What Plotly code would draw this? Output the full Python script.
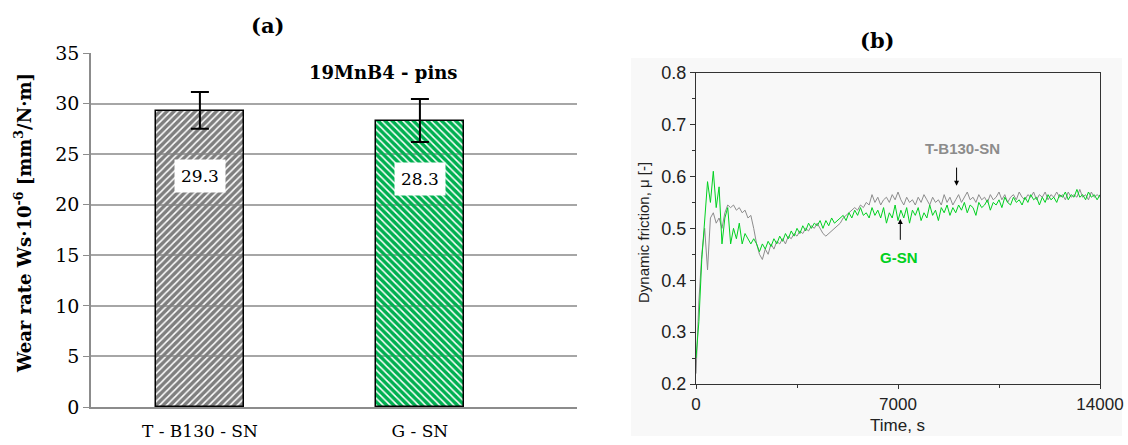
import plotly.graph_objects as go

# ---------------- data (a) ----------------
categories = ["T - B130 - SN", "G - SN"]
wear_rate = [29.3, 28.3]
wear_err_plus = [1.85, 2.15]
wear_err_minus = [1.8, 2.1]
bar_colors = ["#7f7f7f", "#00b050"]
bar_patterns = ["/", "\\"]

# ---------------- data (b) ----------------
time_s = list(range(0, 14001, 100))
mu_tb130 = [
    0.22, 0.36, 0.45, 0.50, 0.42, 0.52, 0.53, 0.51, 0.52, 0.50,
    0.53, 0.545, 0.54, 0.545, 0.535, 0.54, 0.53, 0.535, 0.52, 0.525,
    0.50, 0.47, 0.45, 0.44, 0.46, 0.45, 0.47, 0.46, 0.475, 0.47,
    0.48, 0.47, 0.485, 0.48, 0.49, 0.485, 0.495, 0.49, 0.50, 0.495,
    0.505, 0.50, 0.51, 0.50, 0.49, 0.485, 0.49, 0.495, 0.50, 0.505,
    0.51, 0.52, 0.525, 0.53, 0.535, 0.54, 0.535, 0.545, 0.54, 0.55,
    0.545, 0.565, 0.55, 0.56, 0.545, 0.555, 0.56, 0.55, 0.565, 0.555,
    0.57, 0.555, 0.545, 0.56, 0.55, 0.555, 0.545, 0.56, 0.55, 0.565,
    0.555, 0.545, 0.56, 0.55, 0.555, 0.545, 0.565, 0.55, 0.56, 0.545,
    0.555, 0.565, 0.55, 0.56, 0.57, 0.555, 0.56, 0.55, 0.565, 0.555,
    0.56, 0.55, 0.565, 0.555, 0.56, 0.57, 0.555, 0.565, 0.55, 0.56,
    0.565, 0.555, 0.57, 0.56, 0.555, 0.565, 0.56, 0.57, 0.555, 0.565,
    0.56, 0.57, 0.555, 0.565, 0.56, 0.57, 0.56, 0.565, 0.555, 0.57,
    0.56, 0.565, 0.56, 0.575, 0.56, 0.565, 0.555, 0.57, 0.56, 0.565,
    0.56,
]
mu_gsn = [
    0.25, 0.32, 0.44, 0.52, 0.59, 0.55, 0.61, 0.54, 0.58, 0.47,
    0.52, 0.54, 0.47, 0.50, 0.48, 0.51, 0.47, 0.49, 0.48, 0.47,
    0.48, 0.47, 0.455, 0.47, 0.46, 0.475, 0.465, 0.48, 0.47, 0.485,
    0.475, 0.49, 0.48, 0.495, 0.485, 0.50, 0.49, 0.505, 0.495, 0.51,
    0.50, 0.51, 0.505, 0.515, 0.50, 0.515, 0.505, 0.52, 0.51, 0.515,
    0.52, 0.525, 0.515, 0.53, 0.52, 0.535, 0.525, 0.54, 0.525, 0.53,
    0.52, 0.54, 0.525, 0.535, 0.52, 0.54, 0.51, 0.53, 0.52, 0.545,
    0.515, 0.535, 0.52, 0.54, 0.51, 0.535, 0.525, 0.54, 0.515, 0.53,
    0.52, 0.545, 0.525, 0.535, 0.515, 0.54, 0.53, 0.545, 0.525, 0.54,
    0.53, 0.545, 0.535, 0.55, 0.53, 0.545, 0.54, 0.525, 0.55, 0.54,
    0.545, 0.555, 0.535, 0.55, 0.545, 0.555, 0.54, 0.56, 0.55, 0.545,
    0.56, 0.55, 0.555, 0.545, 0.56, 0.55, 0.565, 0.555, 0.56, 0.545,
    0.56, 0.55, 0.565, 0.555, 0.56, 0.55, 0.565, 0.56, 0.57, 0.555,
    0.565, 0.56, 0.575, 0.56, 0.565, 0.555, 0.57, 0.56, 0.565, 0.555,
    0.565,
]

SERIF = "DejaVu Serif"
SANS = "Liberation Sans, Arial"
W, H = 1128, 445


def px(x, y):
    return x / W, 1 - y / H


fig = go.Figure()

fig.add_trace(go.Bar(
    x=[0, 1], y=wear_rate, width=0.4,
    marker=dict(
        color=bar_colors,
        line=dict(color="black", width=1.5),
        pattern=dict(shape=bar_patterns, fgcolor=bar_colors, bgcolor="white",
                     size=5, solidity=0.7, fillmode="replace"),
    ),
    error_y=dict(type="data", symmetric=False, array=wear_err_plus,
                 arrayminus=wear_err_minus, color="black", thickness=2, width=9),
    xaxis="x", yaxis="y", showlegend=False,
))

fig.add_trace(go.Scatter(
    x=time_s, y=mu_tb130, mode="lines", line=dict(color="#8c8c8c", width=1),
    xaxis="x2", yaxis="y2", showlegend=False,
))
fig.add_trace(go.Scatter(
    x=time_s, y=mu_gsn, mode="lines", line=dict(color="#00d020", width=1),
    xaxis="x2", yaxis="y2", showlegend=False,
))

annotations = []
for txt, (x, y) in [("<b>(a)</b>", (267, 25)), ("<b>(b)</b>", (877, 41))]:
    ax, ay = px(x, y)
    annotations.append(dict(text=txt, x=ax, y=ay, xref="paper", yref="paper",
                            xanchor="center", yanchor="middle", showarrow=False,
                            font=dict(family=SERIF, size=21, color="black")))

yt = px(23, 223)
tt = px(897, 425)
ft = px(643, 233)
annotations += [
    dict(text="<b>19MnB4 - pins</b>", x=0.83, y=33.1, xref="x", yref="y",
         xanchor="center", yanchor="middle",
         showarrow=False, font=dict(family=SERIF, size=18, color="black")),
    dict(text="<b>Wear rate Ws·10<sup>-6</sup> [mm<sup>3</sup>/N·m]</b>", textangle=-90,
         x=yt[0], y=yt[1], xref="paper", yref="paper", showarrow=False,
         xanchor="center", yanchor="middle",
         font=dict(family=SERIF, size=18, color="black")),
    dict(text="Time, s", x=tt[0], y=tt[1], xref="paper", yref="paper",
         xanchor="center", yanchor="middle",
         showarrow=False, font=dict(family=SANS, size=17, color="#222")),
    dict(text="Dynamic friction, μ [-]", textangle=-90, x=ft[0], y=ft[1],
         xref="paper", yref="paper", showarrow=False,
         xanchor="center", yanchor="middle",
         font=dict(family=SANS, size=15, color="#222")),
    dict(text="<b>T-B130-SN</b>", x=9250, y=0.653, xref="x2", yref="y2",
         xanchor="center", yanchor="middle",
         showarrow=False, font=dict(family=SANS, size=15, color="#8c8c8c")),
    dict(text="<b>G-SN</b>", x=7050, y=0.443, xref="x2", yref="y2",
         xanchor="center", yanchor="middle",
         showarrow=False, font=dict(family=SANS, size=15, color="#00d020")),
    dict(text="", x=9030, y=0.582, ax=9030, ay=0.620, xref="x2", yref="y2",
         axref="x2", ayref="y2", showarrow=True, arrowhead=2, arrowsize=1,
         arrowwidth=1, arrowcolor="black"),
    dict(text="", x=7080, y=0.518, ax=7080, ay=0.475, xref="x2", yref="y2",
         axref="x2", ayref="y2", showarrow=True, arrowhead=2, arrowsize=1,
         arrowwidth=1, arrowcolor="black"),
]
for i, v in enumerate(wear_rate):
    annotations.append(dict(
        text=f"{v}", x=i, y=[22.8, 22.5][i], xref="x", yref="y", showarrow=False,
        xanchor="center", yanchor="middle",
        bgcolor="white", borderpad=6, font=dict(family=SERIF, size=17, color="black")))

shapes = [
    dict(type="rect", xref="paper", yref="paper", x0=631 / W, x1=1122 / W,
         y0=1 - 436 / H, y1=1 - 58 / H, fillcolor="#f8f8f8", line=dict(width=0),
         layer="below"),
]

fig.update_layout(
    width=W, height=H, margin=dict(l=0, r=0, t=0, b=0, autoexpand=False),
    paper_bgcolor="white", plot_bgcolor="rgba(0,0,0,0)",
    annotations=annotations, shapes=shapes, bargap=0,
    xaxis=dict(domain=[91 / W, 577 / W], range=[-0.495, 1.714], automargin=False,
               tickvals=[0, 1], ticktext=categories, showgrid=False,
               showline=True, linecolor="#8c8c8c", linewidth=2, ticks="",
               ticklabelstandoff=8,
               tickfont=dict(family=SERIF, size=17, color="black"), zeroline=False,
               fixedrange=True),
    yaxis=dict(domain=[1 - 407 / H, 1 - 53 / H], range=[0, 35], dtick=5,
               automargin=False,
               showgrid=True, gridcolor="#a6a6a6", gridwidth=1.5,
               showline=True, linecolor="#8c8c8c", linewidth=1.5, ticks="outside",
               ticklen=6, tickcolor="#8c8c8c", zeroline=False,
               tickfont=dict(family=SERIF, size=19, color="black")),
    xaxis2=dict(domain=[696 / W, 1100 / W], range=[0, 14000], anchor="y2",
                automargin=False, tickformat="d",
                tickvals=[0, 7000, 14000], showgrid=False, showline=True,
                linecolor="#333", linewidth=1.2, mirror=True, ticks="outside",
                ticklen=4, tickcolor="#333", zeroline=False,
                minor=dict(tickvals=[3500, 10500], ticks="outside", ticklen=3,
                           tickcolor="#333"),
                tickfont=dict(family=SANS, size=17, color="#222")),
    yaxis2=dict(domain=[1 - 384 / H, 1 - 72.7 / H], range=[0.2, 0.8], anchor="x2",
                automargin=False,
                dtick=0.1, tickformat=".1f", showgrid=False, showline=True,
                linecolor="#333", linewidth=1.2, mirror=True, ticks="outside",
                ticklen=5, tickcolor="#333", zeroline=False,
                minor=dict(dtick=0.05, ticks="outside", ticklen=3, tickcolor="#333"),
                tickfont=dict(family=SANS, size=18, color="#222")),
)

fig.write_html("out.html")
